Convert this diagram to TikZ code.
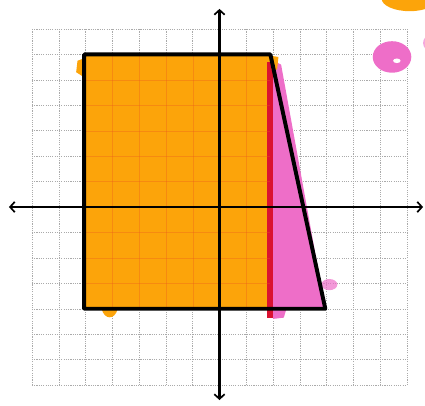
\documentclass[tikz,border=0pt]{standalone}
\usetikzlibrary{arrows.meta}
\definecolor{mkorange}{RGB}{252,164,10}
\definecolor{mkpink}{RGB}{238,110,200}
\definecolor{mkred}{RGB}{218,18,48}
\definecolor{gridgray}{RGB}{170,170,170}
\begin{document}
\begin{tikzpicture}[x=1cm, y=0.9493cm,
  gridline/.style={gridgray, line width=0.5pt, dash pattern=on 1.2pt off 1.2pt},
  axisline/.style={black, line width=2.4pt, {Straight Barb[length=5pt,width=11pt,line width=1.8pt]}-{Straight Barb[length=5pt,width=11pt,line width=1.8pt]}},
  outline/.style={black, line width=4.2pt, line join=round, line cap=round}
]
\useasboundingbox (-8.193,-7.786) rectangle (7.671,8.140);
% grid
\foreach \i in {-7,...,7} {
  \draw[gridline] (\i,-7) -- (\i,7);
  \draw[gridline] (-7,\i) -- (7,\i);
}
% corner points of the figure
\coordinate (A) at (-5.05,6);
\coordinate (B) at (1.9,6);
\coordinate (C) at (3.95,-4);
\coordinate (D) at (-5.05,-4);
\coordinate (E) at (1.9,-4);
% orange fill with small spills
\fill[mkorange] (-5.05,-4) rectangle (1.95,6);
\fill[mkorange] (-5.35,5.3) -- (-5.3,5.75) -- (-5.05,5.85) -- (-5.05,5.1) -- cycle;
\fill[mkorange] (-4.4,-4) .. controls (-4.3,-4.45) and (-3.9,-4.45) .. (-3.8,-4) -- cycle;
% pink triangle with spills
\fill[mkpink] (2.0,5.75) -- (2.3,5.6) -- (C) -- (2.0,-4) -- cycle;
\fill[mkpink] (1.95,-4) -- (2.5,-4) -- (2.4,-4.35) -- (2.0,-4.4) -- cycle;
\fill[mkpink, opacity=0.7] (4.1,-3.05) ellipse (0.3 and 0.22);
% red stripe
\draw[mkred, line width=6.5pt] (1.87,5.7) -- (1.87,-4.35);
% orange dab at the red top
\fill[mkorange] (1.9,5.95) -- (2.2,5.9) -- (2.15,5.4) -- (1.95,5.4) -- cycle;
% grid over fills (faint)
\foreach \i in {-5,...,1} {
  \draw[mkred!50!mkorange, line width=0.4pt, opacity=0.35] (\i,-4) -- (\i,6);
}
\foreach \j in {-4,...,6} {
  \draw[mkred!50!mkorange, line width=0.4pt, opacity=0.35] (-5,\j) -- (1.9,\j);
}
% blobs
\fill[mkpink] (6.44,5.9) ellipse (0.72 and 0.62);
\fill[white] (6.62,5.75) ellipse (0.14 and 0.09);
\fill[mkpink, opacity=0.6] (7.85,6.45) ellipse (0.25 and 0.3);
\fill[mkorange] (7.1,8.2) ellipse (1.05 and 0.5);
% axes
\coordinate (xl) at (-7.86,0);
\coordinate (xr) at (7.6,0);
\coordinate (yb) at (0,-7.59);
\coordinate (yt) at (0,7.79);
\draw[axisline] (xl) -- (xr);
\draw[axisline] (yb) -- (yt);
% outline
\draw[outline] (A) -- (B) -- (C) -- (D) -- cycle;
\end{tikzpicture}
\end{document}
